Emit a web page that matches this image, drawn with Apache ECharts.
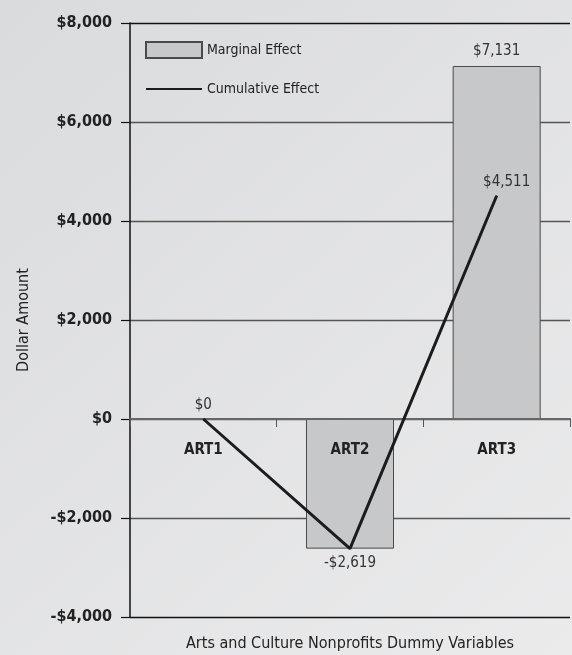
<!DOCTYPE html>
<html>
<head>
<meta charset="utf-8">
<script src="https://cdn.jsdelivr.net/npm/echarts@6/dist/echarts.min.js"></script>
<style>
  html, body { margin: 0; padding: 0; }
  #chart { width: 572px; height: 655px; }
</style>
</head>
<body>
<div id="chart"></div>
<script>
// data
const categories = ['ART1', 'ART2', 'ART3']
const marginal = [0, -2619, 7131]     // Marginal Effect (bars)
const cumulative = [0, -2619, 4511]   // Cumulative Effect (line)
const yTicks = [-4000, -2000, 0, 2000, 4000, 6000, 8000]

const font = '"Liberation Sans Narrow", "DejaVu Sans Condensed", "Roboto Condensed", sans-serif'

function money (v) {
  const s = '$' + Math.abs(v).toLocaleString('en-US')
  return v < 0 ? '-' + s : s
}

const gridTop = 23
const gridBottom = 38
const plotH = 655 - gridTop - gridBottom
const yMin = yTicks[0]
const yMax = yTicks[yTicks.length - 1]
// category axis sits on the $0 line
const zeroOffset = plotH * (0 - yMin) / (yMax - yMin)

const chart = echarts.init(document.getElementById('chart'))

const option = {
  backgroundColor: new echarts.graphic.LinearGradient(0, 0, 1, 1, [
    { offset: 0, color: '#dadbdd' },
    { offset: 1, color: '#ebebec' }
  ]),
  animation: false,
  textStyle: { fontFamily: font },
  grid: { left: 130, right: 2, top: gridTop, bottom: gridBottom, containLabel: false, outerBoundsMode: 'none' },
  legend: {
    orient: 'vertical',
    left: 145,
    top: 41,
    padding: 0,
    itemWidth: 56,
    itemHeight: 16,
    itemGap: 23,
    textStyle: { fontFamily: font, fontSize: 14, color: '#222' },
    data: [
      { name: 'Marginal Effect', icon: 'rect' },
      { name: 'Cumulative Effect', itemStyle: { opacity: 0 } }
    ]
  },
  xAxis: {
    type: 'category',
    data: categories,
    position: 'bottom',
    offset: -zeroOffset,
    name: 'Arts and Culture Nonprofits Dummy Variables',
    nameLocation: 'middle',
    nameGap: 217,
    nameTextStyle: { fontFamily: font, fontSize: 16, color: '#222' },
    axisLine: { onZero: false, lineStyle: { color: '#666', width: 2 } },
    axisTick: { show: true, length: 8, lineStyle: { color: '#555' } },
    axisLabel: { margin: 24, fontFamily: font, fontSize: 15, fontWeight: 'bold', color: '#222' },
    z: 5
  },
  yAxis: {
    type: 'value',
    min: yMin,
    max: yMax,
    interval: 2000,
    name: 'Dollar Amount',
    nameLocation: 'middle',
    nameGap: 98,
    nameTextStyle: { fontFamily: font, fontSize: 16, color: '#222' },
    axisLine: { show: true, lineStyle: { color: '#111', width: 1.5 } },
    axisTick: { show: true, length: 9, lineStyle: { color: '#111', width: 1.2 } },
    axisLabel: {
      margin: 18,
      fontFamily: font,
      fontSize: 16,
      fontWeight: 'bold',
      color: '#222',
      formatter: money
    },
    splitLine: {
      show: true,
      lineStyle: { color: ['#111', '#555', '#666', '#555', '#555', '#555', '#111'], width: 1.3 }
    }
  },
  series: [
    {
      name: 'Marginal Effect',
      type: 'bar',
      data: marginal,
      barWidth: '60%',
      itemStyle: { color: '#c7c8ca', borderColor: '#4a4a4a', borderWidth: 1 },
      label: {
        show: true,
        position: 'top',
        distance: 7,
        fontFamily: font,
        fontSize: 15,
        color: '#333',
        formatter: p => (p.value > 0 ? money(p.value) : '')
      },
      z: 2
    },
    {
      name: 'Cumulative Effect',
      type: 'line',
      data: cumulative.map((v, i) => ({
        value: v,
        label: {
          position: v < 0 ? 'bottom' : 'top',
          offset: i === cumulative.length - 1 ? [10, 0] : [0, 0]
        }
      })),
      symbol: 'circle',
      symbolSize: 1,
      itemStyle: { color: '#1c1c1c' },
      lineStyle: { color: '#1c1c1c', width: 3 },
      label: {
        show: true,
        distance: 6,
        fontFamily: font,
        fontSize: 15,
        color: '#333',
        formatter: p => money(p.value)
      },
      z: 6
    }
  ]
}

chart.setOption(option)
</script>
</body>
</html>
